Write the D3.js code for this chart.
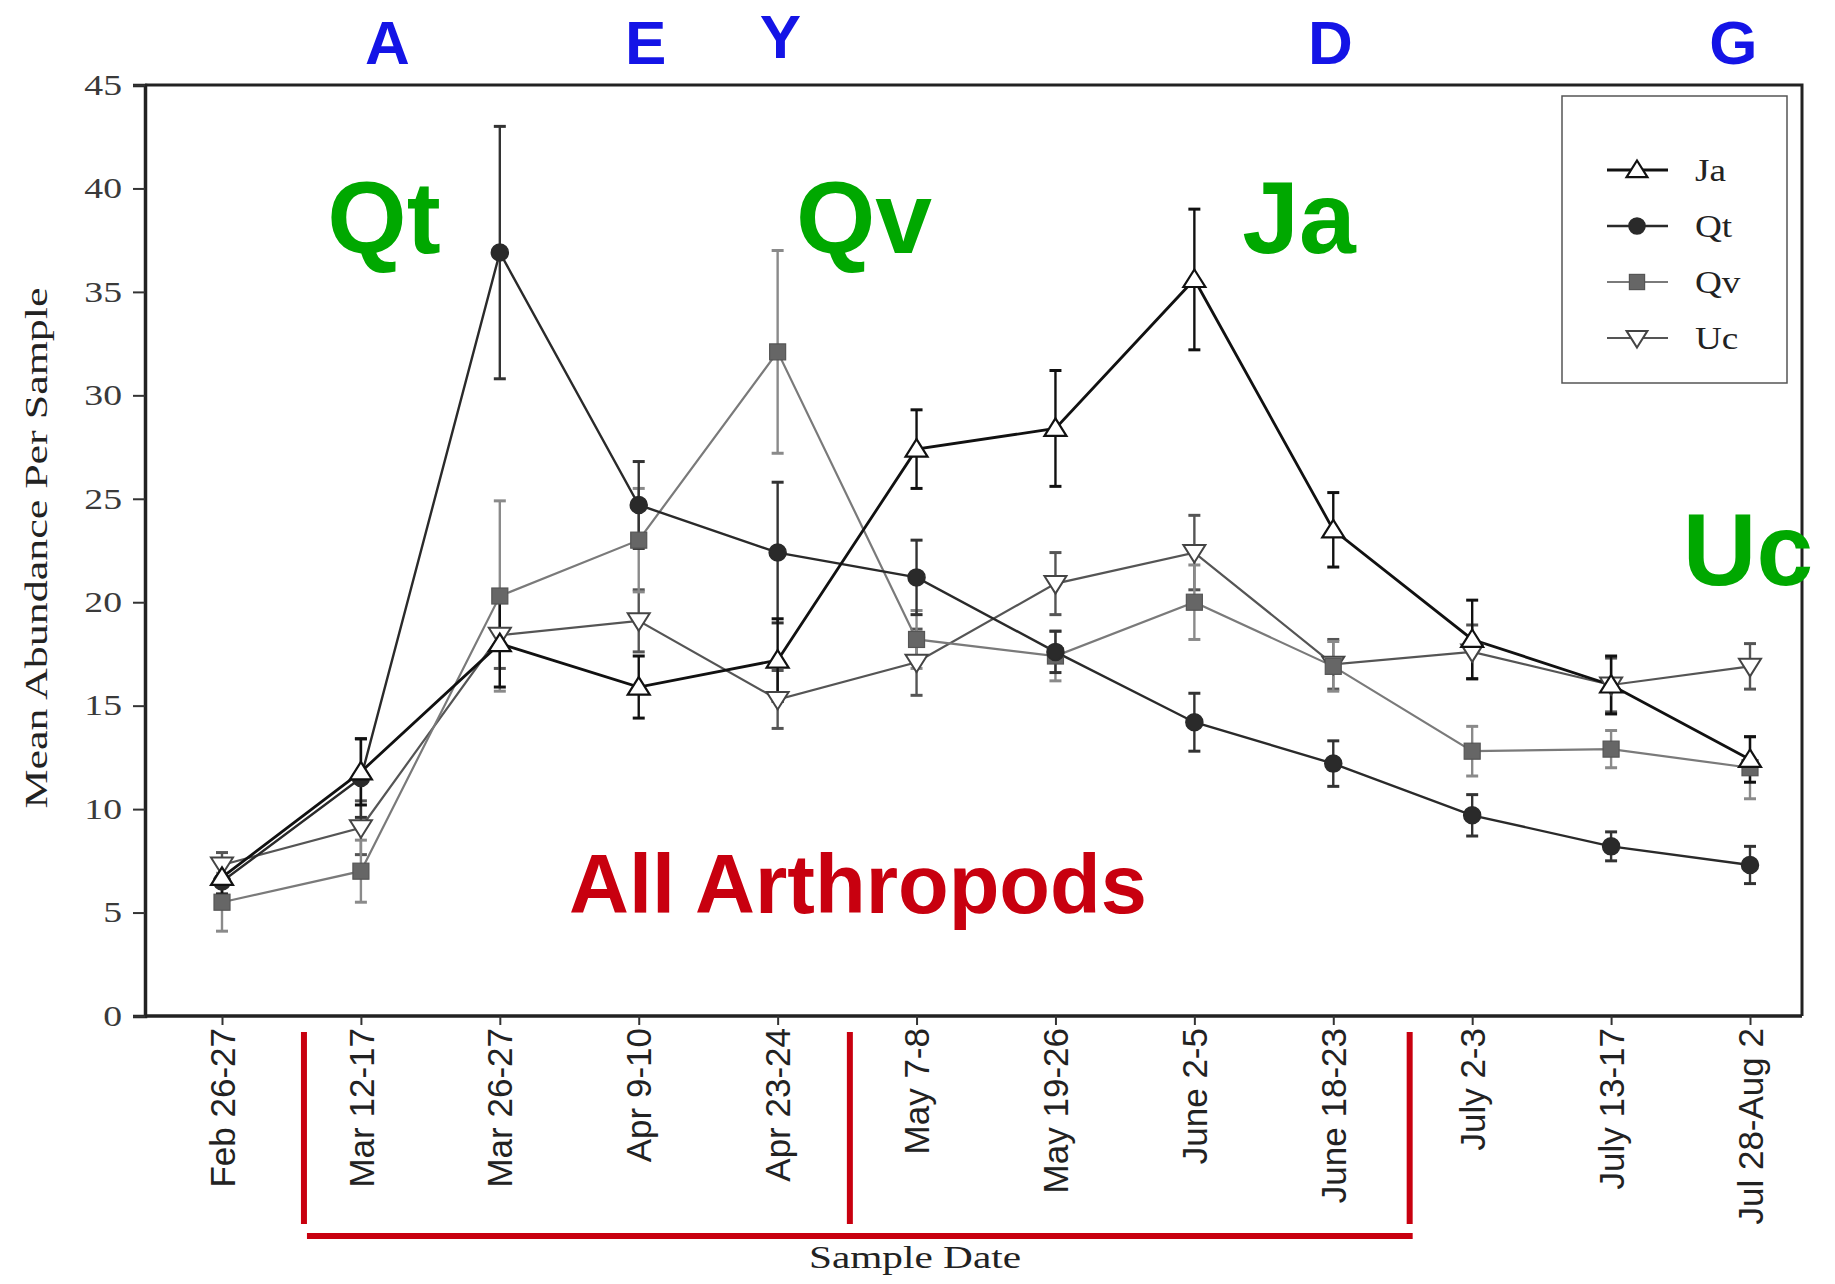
<!DOCTYPE html>
<html>
<head>
<meta charset="utf-8">
<script src="https://cdn.jsdelivr.net/npm/d3@7"></script>
<style>
  html, body { margin: 0; padding: 0; background: #fff; }
  svg { display: block; }
</style>
</head>
<body>
<svg id="chart" width="1835" height="1284"></svg>
<script>
// Sample dates (x categories)
const dates = ["Feb 26-27", "Mar 12-17", "Mar 26-27", "Apr 9-10", "Apr 23-24", "May 7-8",
               "May 19-26", "June 2-5", "June 18-23", "July 2-3", "July 13-17", "Jul 28-Aug 2"];

// Mean abundance per sample and standard error, one array per host species
const jaMean = [6.7, 11.8, 18.0, 15.9, 17.2, 27.4, 28.4, 35.6, 23.5, 18.2, 16.0, 12.4];
const jaErr  = [0.8, 1.6, 2.1, 1.5, 2.0, 1.9, 2.8, 3.4, 1.8, 1.9, 1.4, 1.1];
const qtMean = [6.5, 11.5, 36.9, 24.7, 22.4, 21.2, 17.6, 14.2, 12.2, 9.7, 8.2, 7.3];
const qtErr  = [0.8, 1.9, 6.1, 2.1, 3.4, 1.8, 1.0, 1.4, 1.1, 1.0, 0.7, 0.9];
const qvMean = [5.5, 7.0, 20.3, 23.0, 32.1, 18.2, 17.4, 20.0, 16.9, 12.8, 12.9, 12.0];
const qvErr  = [1.4, 1.5, 4.6, 2.5, 4.9, 1.4, 1.2, 1.8, 1.2, 1.2, 0.9, 1.5];
const ucMean = [7.3, 9.1, 18.4, 19.1, 15.3, 17.1, 20.9, 22.4, 17.0, 17.6, 16.0, 16.9];
const ucErr  = [0.6, 1.3, 1.6, 1.5, 1.4, 1.6, 1.5, 1.8, 1.2, 1.3, 1.3, 1.1];

const yTicks = [0, 5, 10, 15, 20, 25, 30, 35, 40, 45];

// Letters over the seasonal periods (position given in date-step units from the first date)
const periodLetters = [
  { t: "A", i: 1.19 }, { t: "E", i: 3.05 }, { t: "Y", i: 4.02 },
  { t: "D", i: 7.98 }, { t: "G", i: 10.88 }
];

const series = [
  { name: "Uc", mean: ucMean, err: ucErr, line: "#555", errc: "#555", lw: 2.2, shape: "tridown", fill: "#fff", stroke: "#444" },
  { name: "Qv", mean: qvMean, err: qvErr, line: "#7a7a7a", errc: "#8a8a8a", lw: 2.2, shape: "square", fill: "#666", stroke: "#666" },
  { name: "Qt", mean: qtMean, err: qtErr, line: "#2a2a2a", errc: "#333", lw: 2.4, shape: "circle", fill: "#2a2a2a", stroke: "#2a2a2a" },
  { name: "Ja", mean: jaMean, err: jaErr, line: "#111", errc: "#111", lw: 2.8, shape: "triup", fill: "#fff", stroke: "#111" }
];
const legendOrder = ["Ja", "Qt", "Qv", "Uc"];

const svg = d3.select("#chart");

const x = d3.scalePoint().domain(dates).range([222, 1750]);
const y = d3.scaleLinear().domain([0, 45]).range([1016, 85]);
const plotLeft = 145, plotRight = 1802;

const serif = "'Liberation Serif', 'Times New Roman', serif";
const sans = "'Liberation Sans', Arial, sans-serif";

// stretch a text element horizontally by a factor
function stretch(sel, k) {
  sel.each(function () {
    const len = this.getComputedTextLength();
    d3.select(this).attr("textLength", len * k).attr("lengthAdjust", "spacingAndGlyphs");
  });
}

// frame (top and right)
svg.append("path")
  .attr("d", `M${plotLeft},${y(45)}H${plotRight}V${y(0)}`)
  .attr("fill", "none").attr("stroke", "#222").attr("stroke-width", 3);

// y axis
const yAxis = svg.append("g")
  .attr("transform", `translate(${plotLeft},0)`)
  .call(d3.axisLeft(y).tickValues(yTicks).tickSize(12).tickPadding(11));
yAxis.select(".domain").attr("stroke", "#222").attr("stroke-width", 3.5);
yAxis.selectAll(".tick line").attr("stroke", "#333").attr("stroke-width", 2);
yAxis.selectAll(".tick text")
  .attr("font-family", serif).attr("font-size", 29).attr("fill", "#3a3a3a");
stretch(yAxis.selectAll(".tick text"), 1.3);

// x axis
const xAxis = svg.append("g")
  .attr("transform", `translate(0,${y(0)})`)
  .call(d3.axisBottom(x).tickSize(9).tickFormat(""));
xAxis.select(".domain").attr("d", `M${plotLeft},0H${plotRight}`).attr("stroke", "#222").attr("stroke-width", 3.5);
xAxis.selectAll(".tick line").attr("stroke", "#333").attr("stroke-width", 2);

svg.append("g").selectAll("text").data(dates).join("text")
  .attr("transform", d => `translate(${x(d)},1028) rotate(-90)`)
  .attr("text-anchor", "end").attr("dy", "0.36em")
  .attr("font-family", sans).attr("font-size", 35).attr("fill", "#222")
  .text(d => d);

// axis titles
const yTitle = svg.append("text")
  .attr("transform", `translate(36,548) rotate(-90)`)
  .attr("text-anchor", "middle").attr("dy", "0.35em")
  .attr("font-family", serif).attr("font-size", 31).attr("fill", "#222")
  .text("Mean Abundance Per Sample");
yTitle.attr("textLength", 521).attr("lengthAdjust", "spacingAndGlyphs");

const xTitle = svg.append("text")
  .attr("x", 915).attr("y", 1268)
  .attr("text-anchor", "middle")
  .attr("font-family", serif).attr("font-size", 32).attr("fill", "#222")
  .text("Sample Date");
xTitle.attr("textLength", 212).attr("lengthAdjust", "spacingAndGlyphs");

// marker shapes
function drawMarker(g, shape, cx, cy, fill, stroke, s) {
  if (shape === "circle") {
    g.append("circle").attr("cx", cx).attr("cy", cy).attr("r", 8.5 * s)
      .attr("fill", fill).attr("stroke", stroke).attr("stroke-width", 1.5);
  } else if (shape === "square") {
    g.append("rect").attr("x", cx - 8 * s).attr("y", cy - 8 * s)
      .attr("width", 16 * s).attr("height", 16 * s)
      .attr("fill", fill).attr("stroke", "#555").attr("stroke-width", 1.2);
  } else if (shape === "triup") {
    const h = 10 * s;
    g.append("path").attr("d", `M${cx},${cy - h}L${cx + h * 1.1},${cy + h * 0.75}L${cx - h * 1.1},${cy + h * 0.75}Z`)
      .attr("fill", fill).attr("stroke", stroke).attr("stroke-width", 2.2);
  } else if (shape === "tridown") {
    const h = 10 * s;
    g.append("path").attr("d", `M${cx},${cy + h}L${cx + h * 1.1},${cy - h * 0.75}L${cx - h * 1.1},${cy - h * 0.75}Z`)
      .attr("fill", fill).attr("stroke", stroke).attr("stroke-width", 2);
  }
}

const plot = svg.append("g");

// error bars
series.forEach(s => {
  const g = plot.append("g");
  dates.forEach((d, i) => {
    const cx = x(d), lo = y(s.mean[i] - s.err[i]), hi = y(s.mean[i] + s.err[i]);
    g.append("line").attr("x1", cx).attr("x2", cx).attr("y1", lo).attr("y2", hi)
      .attr("stroke", s.errc).attr("stroke-width", 2.4);
    [lo, hi].forEach(yy => g.append("line").attr("x1", cx - 6).attr("x2", cx + 6)
      .attr("y1", yy).attr("y2", yy).attr("stroke", s.errc).attr("stroke-width", 3));
  });
});

// lines
const lineGen = d3.line().x((v, i) => x(dates[i])).y(v => y(v));
series.forEach(s => {
  plot.append("path").attr("d", lineGen(s.mean))
    .attr("fill", "none").attr("stroke", s.line).attr("stroke-width", s.lw);
});

// markers
series.forEach(s => {
  const g = plot.append("g");
  dates.forEach((d, i) => drawMarker(g, s.shape, x(d), y(s.mean[i]), s.fill, s.stroke, 1));
});

// legend
const lg = svg.append("g");
lg.append("rect").attr("x", 1562).attr("y", 96).attr("width", 225).attr("height", 287)
  .attr("fill", "#fff").attr("stroke", "#555").attr("stroke-width", 1.5);
legendOrder.forEach((name, k) => {
  const s = series.find(v => v.name === name);
  const ly = 170 + k * 56;
  lg.append("line").attr("x1", 1607).attr("x2", 1668).attr("y1", ly).attr("y2", ly)
    .attr("stroke", s.line).attr("stroke-width", s.lw);
  drawMarker(lg, s.shape, 1637, ly, s.fill, s.stroke, 0.95);
  const t = lg.append("text").attr("x", 1695).attr("y", ly).attr("dy", "0.35em")
    .attr("font-family", serif).attr("font-size", 31).attr("fill", "#222").text(name);
  stretch(t, 1.2);
});

// red sampling-period brackets
const red = "#c8000f";
const br = svg.append("g").attr("stroke", red).attr("stroke-width", 6).attr("fill", "none");
const bracketX = [
  x(dates[0]) + (x(dates[1]) - x(dates[0])) * 0.59,
  x(dates[4]) + (x(dates[5]) - x(dates[4])) * 0.52,
  x(dates[8]) + (x(dates[9]) - x(dates[8])) * 0.55
];
bracketX.forEach(bx => {
  br.append("line").attr("x1", bx).attr("x2", bx).attr("y1", 1032).attr("y2", 1224);
});
br.append("line")
  .attr("x1", bracketX[0] + 3).attr("x2", bracketX[2] + 3)
  .attr("y1", 1236).attr("y2", 1236);

svg.append("text").attr("x", 858).attr("y", 913).attr("text-anchor", "middle")
  .attr("font-family", sans).attr("font-weight", "bold").attr("font-size", 83)
  .attr("fill", red).text("All Arthropods");

// species callouts
const green = "#00a800";
const callouts = [
  { t: "Qt", x: 384, y: 253 }, { t: "Qv", x: 864, y: 253 },
  { t: "Ja", x: 1299, y: 253 }, { t: "Uc", x: 1748, y: 585 }
];
svg.append("g").selectAll("text").data(callouts).join("text")
  .attr("x", d => d.x).attr("y", d => d.y).attr("text-anchor", "middle")
  .attr("font-family", sans).attr("font-weight", "bold").attr("font-size", 102)
  .attr("fill", green).text(d => d.t);

// period letters
const blue = "#1414e6";
svg.append("g").selectAll("text").data(periodLetters).join("text")
  .attr("x", d => x(dates[0]) + d.i * (x(dates[1]) - x(dates[0])))
  .attr("y", d => d.t === "Y" ? 58 : 64)
  .attr("text-anchor", "middle")
  .attr("font-family", sans).attr("font-weight", "bold").attr("font-size", 62)
  .attr("fill", blue).text(d => d.t);
</script>
</body>
</html>
